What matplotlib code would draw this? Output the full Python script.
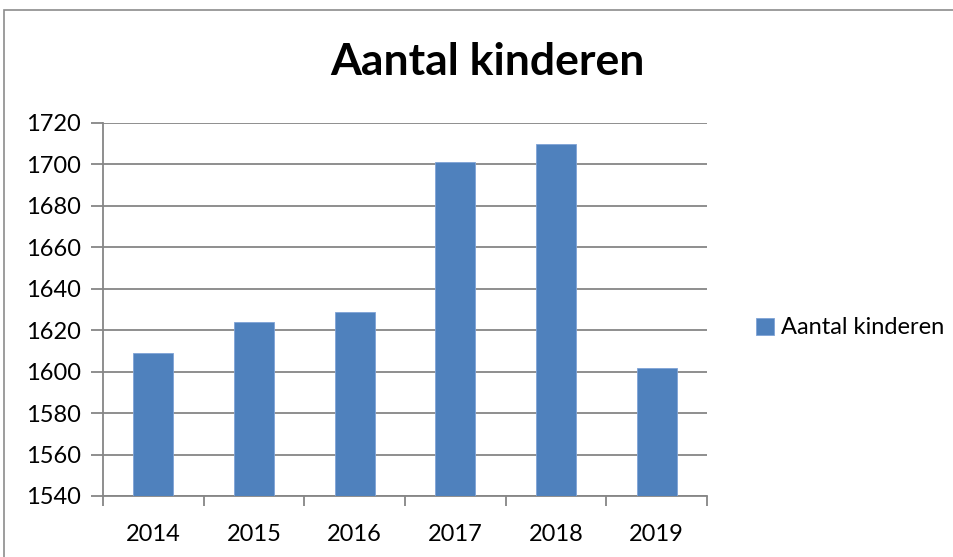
import numpy as np
import matplotlib
matplotlib.use("Agg")
import matplotlib.pyplot as plt
from matplotlib.patches import Rectangle

years = ["2014", "2015", "2016", "2017", "2018", "2019"]
kinderen = [1609, 1624, 1629, 1701, 1710, 1602]
series_name = "Aantal kinderen"

plt.rcParams['font.family'] = ['Lato', 'DejaVu Sans']

fig = plt.figure(figsize=(9.54, 5.57), dpi=100)
W, H = 954, 557

# chart border (Excel style frame)
fig.patches.append(Rectangle((4 / W, -0.1), 2.0, 1 - 10 / H + 0.1, transform=fig.transFigure,
                             fill=False, edgecolor='#8c8c8c', linewidth=1.2))

ax = fig.add_axes([103 / W, 1 - 496 / H, (707 - 103) / W, (496 - 123) / H])

x = np.arange(len(years))
ax.bar(x, kinderen, width=0.4, color='#4F81BD', edgecolor='#7fa3d6', linewidth=0.6,
       zorder=3, label=series_name)

ax.set_ylim(1540, 1720)
ax.set_yticks(np.arange(1540, 1721, 20))
ax.set_xlim(-0.5, len(years) - 0.5)
ax.set_xticks(x)
ax.set_xticklabels(years)
ax.set_xticks(np.arange(-0.5, len(years)), minor=True)
ax.tick_params(axis='x', which='major', length=0, pad=20, labelsize=17)
ax.tick_params(axis='x', which='minor', length=7, width=1.3, color='#868686')
ax.tick_params(axis='y', length=9, width=1.3, color='#868686', labelsize=17, pad=7)

ax.grid(axis='y', color='#868686', linewidth=1.3, zorder=0)
for s in ['top', 'right']:
    ax.spines[s].set_visible(False)
for s in ['left', 'bottom']:
    ax.spines[s].set_color('#868686')
    ax.spines[s].set_linewidth(1.3)

fig.text(487 / W, 1 - 62 / H, "Aantal kinderen", ha='center', va='center',
         fontsize=32, fontweight='bold')

ax.legend(loc='center left', bbox_to_anchor=(735 / W, 1 - 328 / H), bbox_transform=fig.transFigure,
          frameon=False, fontsize=17, handlelength=0.75, handleheight=0.75, handletextpad=0.3)

fig.savefig("out.png", dpi=100)
